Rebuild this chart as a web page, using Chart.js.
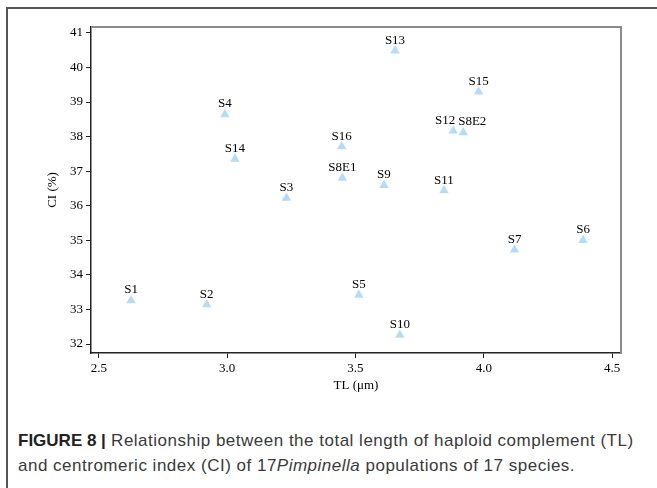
<!DOCTYPE html>
<html>
<head>
<meta charset="utf-8">
<script src="https://cdn.jsdelivr.net/npm/chart.js@4/dist/chart.umd.min.js"></script>
<style>
  html, body { margin: 0; padding: 0; background: #fff; }
  body { width: 657px; height: 488px; position: relative; overflow: hidden; }
  #frame {
    position: absolute; left: 6px; top: 7px; width: 700px; height: 600px;
    border-left: 2px solid #555; border-top: 2px solid #555;
  }
  #wrap { position: absolute; left: 0; top: 0; width: 657px; height: 400px; }
  #caption {
    position: absolute; left: 18px; top: 428px; width: 636px;
    font-family: "Liberation Sans", Arial, sans-serif; font-size: 17px;
    letter-spacing: 0.5px; line-height: 25px; color: #3a3a3a;
  }
  #caption b { color: #222; letter-spacing: 0; }
</style>
</head>
<body>
<div id="frame"></div>
<div id="wrap"><canvas id="grafico"></canvas></div>
<div id="caption"><b>FIGURE 8 |</b> Relationship between the total length of haploid complement (TL) and centromeric index (CI) of 17<i>Pimpinella</i> populations of 17 species.</div>

<script>
// --- Dados ---
const populations = ['S1', 'S2', 'S3', 'S4', 'S5', 'S6', 'S7', 'S8E1', 'S8E2', 'S9', 'S10', 'S11', 'S12', 'S13', 'S14', 'S15', 'S16'];
const tlValues = [2.625, 2.92, 3.231, 2.991, 3.513, 4.387, 4.12, 3.449, 3.92, 3.611, 3.673, 3.845, 3.881, 3.654, 3.03, 3.98, 3.446];
const ciValues = [33.26, 33.14, 36.22, 38.64, 33.42, 35.0, 34.73, 36.8, 38.12, 36.59, 32.26, 36.44, 38.17, 40.48, 37.35, 39.3, 37.71];
const xTicks = [2.5, 3.0, 3.5, 4.0, 4.5];
const yTicks = [32, 33, 34, 35, 36, 37, 38, 39, 40, 41];

const serif = '"Liberation Serif", "Times New Roman", serif';

// Deslocamento horizontal dos rótulos que se sobrepõem
const labelShift = { 'S12': -8, 'S8E2': 9 };

// Rótulos acima de cada triângulo
const pointLabels = {
    id: 'pointLabels',
    afterDatasetsDraw(chart) {
        const ctx = chart.ctx;
        const meta = chart.getDatasetMeta(0);
        ctx.save();
        ctx.font = '13px ' + serif;
        ctx.fillStyle = '#000';
        ctx.textAlign = 'center';
        ctx.textBaseline = 'alphabetic';
        meta.data.forEach((pt, i) => {
            const name = populations[i];
            ctx.fillText(name, pt.x + (labelShift[name] || 0), pt.y - 7);
        });
        ctx.restore();
    }
};

// Moldura cinza em cima e à direita
const boxBorder = {
    id: 'boxBorder',
    beforeDatasetsDraw(chart) {
        const { ctx, chartArea: a } = chart;
        ctx.save();
        ctx.strokeStyle = '#8a8a8a';
        ctx.lineWidth = 2;
        ctx.beginPath();
        ctx.moveTo(a.left, a.top);
        ctx.lineTo(a.right, a.top);
        ctx.lineTo(a.right, a.bottom);
        ctx.stroke();
        ctx.restore();
    }
};

const data = {
    datasets: [{
        label: 'CI vs TL',
        data: tlValues.map((tl, i) => ({ x: tl, y: ciValues[i] })),
        pointStyle: 'triangle',
        pointRadius: 5.5,
        pointHoverRadius: 5.5,
        backgroundColor: '#b3ddf6',
        borderColor: '#b3ddf6',
        borderWidth: 0
    }]
};

const config = {
    type: 'scatter',
    data: data,
    options: {
        responsive: false,
        animation: false,
        events: [],
        layout: { padding: { left: 0, top: 27, right: 36, bottom: 0 } },
        plugins: { legend: { display: false }, tooltip: { enabled: false } },
        scales: {
            x: {
                type: 'linear',
                min: 2.469, max: 4.535,
                afterFit: s => { s.height = 47; },
                afterBuildTicks: s => { s.ticks = xTicks.map(v => ({ value: v })); },
                border: { color: '#222', width: 1.5 },
                grid: { drawOnChartArea: false, tickLength: 5, color: '#222', lineWidth: 1 },
                ticks: {
                    font: { family: serif, size: 13 }, color: '#000', padding: 3,
                    callback: v => v.toFixed(1)
                },
                title: {
                    display: true, text: 'TL (μm)',
                    font: { family: serif, size: 13 }, color: '#000',
                    padding: { top: 0, bottom: 7 }
                }
            },
            y: {
                type: 'linear',
                min: 31.74, max: 41.17,
                afterFit: s => { s.width = 91; },
                afterBuildTicks: s => { s.ticks = yTicks.map(v => ({ value: v })); },
                border: { color: '#222', width: 1.5 },
                grid: { drawOnChartArea: false, tickLength: 5, color: '#222', lineWidth: 1 },
                ticks: {
                    font: { family: serif, size: 13 }, color: '#000', padding: 3,
                    callback: v => String(v)
                },
                title: {
                    display: true, text: 'CI (%)',
                    font: { family: serif, size: 13 }, color: '#000',
                    padding: { top: 45, bottom: 0 }
                }
            }
        }
    },
    plugins: [boxBorder, pointLabels]
};

const canvas = document.getElementById('grafico');
canvas.width = 657;
canvas.height = 400;
canvas.style.width = '657px';
canvas.style.height = '400px';
window.myChart = new Chart(canvas.getContext('2d'), config);
</script>
</body>
</html>
